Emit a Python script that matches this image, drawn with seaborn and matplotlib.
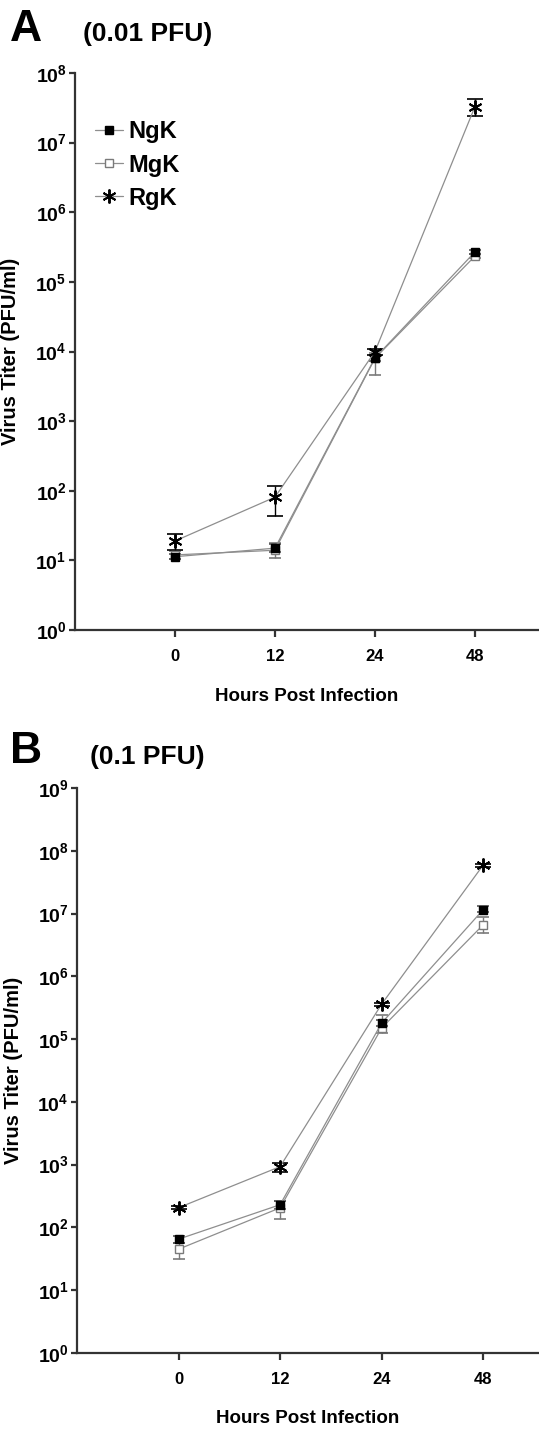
"""Virus growth curves (two inocula) redrawn with seaborn, log-scale titers."""
import matplotlib
matplotlib.use("Agg")
import matplotlib.pyplot as plt
import matplotlib.ticker as mticker
import numpy as np
import pandas as pd
import seaborn as sns

# ---- data ----
hours = ["0", "12", "24", "48"]
strains = ["NgK", "MgK", "RgK"]

# panel A (0.01 PFU)
ngk_a = [11.3, 15, 8100, 2.7e5]
ngk_a_lo = [10.5, 13, 7400, 2.55e5]
ngk_a_hi = [12.2, 17, 8800, 2.85e5]
mgk_a = [12, 14, 8000, 2.35e5]
mgk_a_lo = [10.5, 11, 4600, 2.2e5]
mgk_a_hi = [13.5, 18, 9500, 2.5e5]
rgk_a = [19, 81, 10000, 3.3e7]
rgk_a_lo = [14, 43, 9000, 2.4e7]
rgk_a_hi = [24, 118, 11000, 4.3e7]

# panel B (0.1 PFU)
ngk_b = [65, 230, 1.8e5, 1.15e7]
ngk_b_lo = [57, 200, 1.6e5, 1.05e7]
ngk_b_hi = [72, 265, 2.0e5, 1.3e7]
mgk_b = [45, 205, 1.5e5, 6.6e6]
mgk_b_lo = [31, 135, 1.25e5, 4.9e6]
mgk_b_hi = [56, 260, 2.4e5, 8.9e6]
rgk_b = [206, 930, 3.6e5, 5.9e7]
rgk_b_lo = [195, 750, 3.4e5, 5.6e7]
rgk_b_hi = [218, 1050, 3.8e5, 6.2e7]

sns.set_style("ticks")
plt.rcParams["font.family"] = ["Liberation Sans", "DejaVu Sans"]
plt.rcParams["font.weight"] = "bold"
plt.rcParams["text.color"] = "black"
plt.rcParams["axes.labelcolor"] = "black"
plt.rcParams["xtick.color"] = "black"
plt.rcParams["ytick.color"] = "black"
plt.rcParams["mathtext.fontset"] = "custom"
plt.rcParams["mathtext.rm"] = "Liberation Sans:bold"
plt.rcParams["mathtext.it"] = "Liberation Sans:bold"
plt.rcParams["mathtext.bf"] = "Liberation Sans:bold"

LINE = "#8e8e8e"
STYLES = {
    "NgK": dict(marker="s", markersize=5.5, markerfacecolor="black",
                markeredgecolor="black", ecolor="#555555"),
    "MgK": dict(marker="s", markersize=5.5, markerfacecolor="white",
                markeredgecolor="#7a7a7a", ecolor="#7a7a7a"),
    "RgK": dict(marker=(6, 2, 0), markersize=10, markerfacecolor="black",
                markeredgecolor="black", ecolor="black"),
}


def build_frame(vals, los, his):
    rows = []
    for s, v, lo, hi in zip(strains, vals, los, his):
        for i, h in enumerate(hours):
            rows.append({"strain": s, "pos": i, "hours": h,
                         "titer": v[i], "lo": lo[i], "hi": hi[i]})
    return pd.DataFrame(rows)


def draw_panel(ax, df, ymax_exp, xmax, xlabelpad):
    for s in ["MgK", "NgK", "RgK"]:
        d = df[df["strain"] == s]
        st = STYLES[s]
        yerr = np.vstack([d["titer"] - d["lo"], d["hi"] - d["titer"]])
        ax.errorbar(d["pos"], d["titer"], yerr=yerr, fmt="none",
                    ecolor=st["ecolor"], elinewidth=1.0,
                    capsize=6 if s == "RgK" else 4, capthick=1.2, zorder=2)
        sns.lineplot(data=d, x="pos", y="titer", ax=ax, color=LINE,
                     linewidth=0.9, marker=st["marker"],
                     markersize=st["markersize"],
                     markerfacecolor=st["markerfacecolor"],
                     markeredgecolor=st["markeredgecolor"],
                     markeredgewidth=1.4 if s == "RgK" else 1.0,
                     label=s, legend=False, zorder=3)
    ax.set_yscale("log")
    ax.set_ylim(1, 10 ** ymax_exp)
    ax.set_xlim(-1, xmax)
    ax.yaxis.set_major_locator(mticker.FixedLocator([10 ** k for k in range(ymax_exp + 1)]))
    ax.yaxis.set_minor_locator(mticker.NullLocator())
    ax.yaxis.set_major_formatter(
        mticker.FuncFormatter(lambda v, p: r"$10^{%d}$" % int(round(np.log10(v)))))
    ax.set_xticks(range(len(hours)))
    ax.set_xticklabels(hours)
    for sp in ["top", "right"]:
        ax.spines[sp].set_visible(False)
    for sp in ["left", "bottom"]:
        ax.spines[sp].set_linewidth(1.6)
        ax.spines[sp].set_color("#333333")
    ax.tick_params(axis="both", direction="out", width=1.6, color="#333333")
    ax.tick_params(axis="y", length=4, labelsize=14, pad=2)
    ax.tick_params(axis="x", length=5, labelsize=12, pad=9)
    ax.set_xlabel("Hours Post Infection", fontsize=13.5, fontweight="bold",
                  labelpad=xlabelpad)
    ax.set_ylabel("Virus Titer (PFU/ml)", fontsize=14.5, fontweight="bold", labelpad=3)
    ax.yaxis.set_label_coords(-0.118, 0.5)
    ax.grid(False)


fig = plt.figure(figsize=(5.39, 14.29), dpi=100)
ax_a = fig.add_axes([0.139, 0.5591, 0.861, 0.3898])
ax_b = fig.add_axes([0.1429, 0.0532, 0.8571, 0.3954])

df_a = build_frame([ngk_a, mgk_a, rgk_a], [ngk_a_lo, mgk_a_lo, rgk_a_lo],
                   [ngk_a_hi, mgk_a_hi, rgk_a_hi])
df_b = build_frame([ngk_b, mgk_b, rgk_b], [ngk_b_lo, mgk_b_lo, rgk_b_lo],
                   [ngk_b_hi, mgk_b_hi, rgk_b_hi])

draw_panel(ax_a, df_a, 8, 3.64, 17)
draw_panel(ax_b, df_b, 9, 3.55, 16)

# legend on panel A
handles, labels = ax_a.get_legend_handles_labels()
order = [labels.index(s) for s in strains]
ax_a.legend([handles[i] for i in order], [labels[i] for i in order],
            loc="upper left", bbox_to_anchor=(0.043, 0.915), frameon=False,
            handlelength=1.2, handletextpad=0.2, labelspacing=0.43,
            borderpad=0, borderaxespad=0,
            prop={"weight": "bold", "size": 17})

fig.text(0.018, 0.9935, "A", fontsize=32, fontweight="bold", va="top", ha="left")
fig.text(0.154, 0.9762, "(0.01 PFU)", fontsize=19, fontweight="bold", va="center", ha="left")
fig.text(0.018, 0.4885, "B", fontsize=32, fontweight="bold", va="top", ha="left")
fig.text(0.167, 0.4703, "(0.1 PFU)", fontsize=19, fontweight="bold", va="center", ha="left")

fig.savefig("out.png", dpi=100, facecolor="white")
